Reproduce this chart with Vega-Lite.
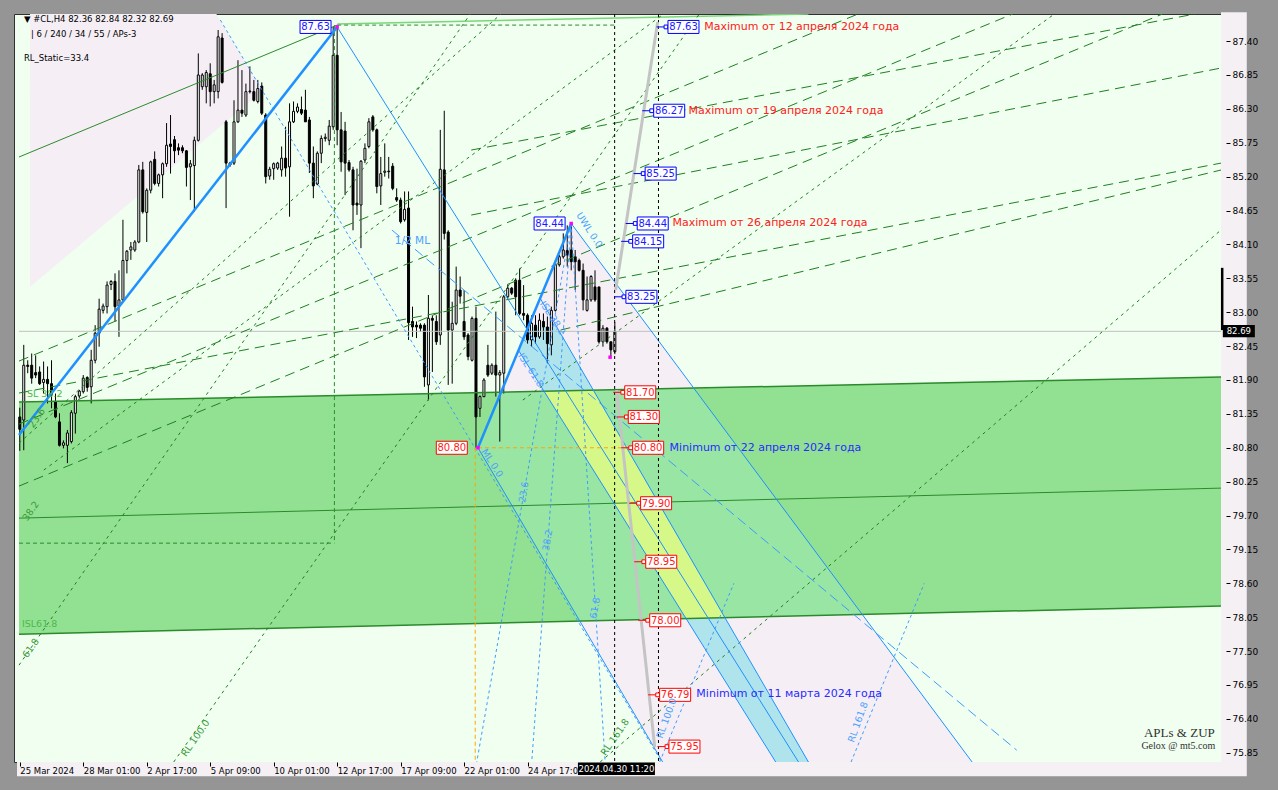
{
"$schema": "https://vega.github.io/schema/vega-lite/v6.json",
"width": 1212,
"height": 748,
"autosize": {"type": "none"},
"padding": {"left": 14, "top": 14, "right": 52, "bottom": 28},
"background": "#959595",
"config": {"view": {"fill": "#f0fff0", "stroke": "#303030", "strokeWidth": 1}, "axis": {"labelOverlap": false}},
"datasets": {
"frame": [
{"x1":302.8,"x2":309.3,"y1":87.87,"y2":75.47},
{"x1":-0.7,"x2":302.8,"y1":75.7,"y2":75.47}
],
"candles": [
{"i":0,"o":81.3,"h":81.45,"l":80.75,"c":81.1},
{"i":1,"o":81.25,"h":82.47,"l":80.76,"c":82.14},
{"i":2,"o":82.14,"h":82.22,"l":82.01,"c":82.12},
{"i":3,"o":82.14,"h":82.33,"l":81.84,"c":81.93},
{"i":4,"o":82.02,"h":82.3,"l":81.93,"c":81.98},
{"i":5,"o":82.03,"h":82.12,"l":81.82,"c":81.84},
{"i":6,"o":81.86,"h":82.2,"l":81.68,"c":81.91},
{"i":7,"o":81.91,"h":82.12,"l":81.52,"c":81.84},
{"i":8,"o":81.84,"h":82.22,"l":81.44,"c":81.66},
{"i":9,"o":81.55,"h":81.68,"l":81.28,"c":81.3},
{"i":10,"o":81.22,"h":81.36,"l":80.82,"c":80.84},
{"i":11,"o":80.84,"h":80.92,"l":80.79,"c":80.88},
{"i":12,"o":80.84,"h":81.09,"l":80.55,"c":81.04},
{"i":13,"o":80.9,"h":81.41,"l":80.87,"c":81.37},
{"i":14,"o":81.36,"h":81.66,"l":81.03,"c":81.63},
{"i":15,"o":81.64,"h":81.74,"l":81.6,"c":81.72},
{"i":16,"o":81.71,"h":81.98,"l":81.68,"c":81.93},
{"i":17,"o":81.94,"h":81.96,"l":81.71,"c":81.78},
{"i":18,"o":81.79,"h":82.39,"l":81.52,"c":82.22},
{"i":19,"o":82.22,"h":82.79,"l":82.17,"c":82.66},
{"i":20,"o":82.66,"h":83.22,"l":82.44,"c":83.05},
{"i":21,"o":83.03,"h":83.14,"l":82.98,"c":83.1},
{"i":22,"o":83.09,"h":83.5,"l":82.98,"c":83.44},
{"i":23,"o":83.45,"h":83.52,"l":83.36,"c":83.5},
{"i":24,"o":83.5,"h":83.63,"l":82.85,"c":83.09},
{"i":25,"o":83.1,"h":83.68,"l":82.6,"c":83.2},
{"i":26,"o":83.2,"h":84.5,"l":83.17,"c":83.84},
{"i":27,"o":83.84,"h":84.01,"l":83.63,"c":83.99},
{"i":28,"o":84.01,"h":84.14,"l":83.85,"c":84.06},
{"i":29,"o":84.01,"h":84.17,"l":83.98,"c":84.14},
{"i":30,"o":84.14,"h":85.39,"l":84.12,"c":85.31},
{"i":31,"o":85.31,"h":85.44,"l":84.6,"c":84.63},
{"i":32,"o":84.62,"h":85.01,"l":84.14,"c":84.98},
{"i":33,"o":84.98,"h":85.46,"l":84.93,"c":85.44},
{"i":34,"o":85.48,"h":85.61,"l":85.06,"c":85.09},
{"i":35,"o":85.09,"h":85.25,"l":85.04,"c":85.23},
{"i":36,"o":85.23,"h":85.43,"l":84.85,"c":85.41},
{"i":37,"o":85.41,"h":86.07,"l":85.36,"c":85.71},
{"i":38,"o":85.73,"h":86.2,"l":85.25,"c":85.69},
{"i":39,"o":85.8,"h":85.86,"l":85.42,"c":85.62},
{"i":40,"o":85.67,"h":85.74,"l":85.55,"c":85.63},
{"i":41,"o":85.67,"h":85.71,"l":85.58,"c":85.62},
{"i":42,"o":85.62,"h":85.63,"l":85.04,"c":85.35},
{"i":43,"o":85.36,"h":85.47,"l":84.82,"c":85.41},
{"i":44,"o":85.38,"h":85.85,"l":84.63,"c":85.79},
{"i":45,"o":85.79,"h":87.2,"l":85.77,"c":86.85},
{"i":46,"o":86.66,"h":86.88,"l":86.61,"c":86.85},
{"i":47,"o":86.66,"h":86.93,"l":86.39,"c":86.89},
{"i":48,"o":86.87,"h":87.04,"l":86.34,"c":86.58},
{"i":49,"o":86.58,"h":86.77,"l":86.39,"c":86.69},
{"i":50,"o":86.58,"h":87.58,"l":86.47,"c":87.47},
{"i":51,"o":87.45,"h":87.53,"l":86.71,"c":86.73},
{"i":52,"o":86.09,"h":86.12,"l":84.69,"c":85.42},
{"i":53,"o":85.42,"h":85.44,"l":85.36,"c":85.39},
{"i":54,"o":85.42,"h":86.44,"l":85.39,"c":86.09},
{"i":55,"o":86.09,"h":87.09,"l":86.07,"c":86.28},
{"i":56,"o":86.28,"h":86.93,"l":86.17,"c":86.23},
{"i":57,"o":86.2,"h":86.71,"l":86.17,"c":86.58},
{"i":58,"o":86.58,"h":86.99,"l":86.55,"c":86.59},
{"i":59,"o":86.58,"h":86.77,"l":86.42,"c":86.44},
{"i":60,"o":86.42,"h":86.77,"l":86.39,"c":86.63},
{"i":61,"o":86.67,"h":86.73,"l":86.2,"c":86.23},
{"i":62,"o":86.2,"h":86.23,"l":85.09,"c":85.2},
{"i":63,"o":85.21,"h":85.36,"l":85.15,"c":85.32},
{"i":64,"o":85.33,"h":85.43,"l":85.15,"c":85.41},
{"i":65,"o":85.34,"h":85.44,"l":85.31,"c":85.42},
{"i":66,"o":85.31,"h":85.69,"l":85.2,"c":85.5},
{"i":67,"o":85.5,"h":86.01,"l":85.2,"c":85.34},
{"i":68,"o":85.36,"h":86.39,"l":84.55,"c":86.09},
{"i":69,"o":86.09,"h":86.42,"l":86.07,"c":86.26},
{"i":70,"o":86.26,"h":86.39,"l":86.23,"c":86.33},
{"i":71,"o":86.29,"h":86.5,"l":86.2,"c":86.23},
{"i":72,"o":86.28,"h":86.61,"l":86.09,"c":86.09},
{"i":73,"o":86.12,"h":86.17,"l":85.26,"c":85.42},
{"i":74,"o":85.42,"h":85.69,"l":84.85,"c":85.05},
{"i":75,"o":85.08,"h":85.61,"l":85.06,"c":85.58},
{"i":76,"o":85.58,"h":85.87,"l":85.42,"c":85.82},
{"i":77,"o":85.82,"h":85.9,"l":85.77,"c":85.84},
{"i":78,"o":85.79,"h":86.12,"l":85.71,"c":86.02},
{"i":79,"o":86.01,"h":87.63,"l":85.96,"c":87.17},
{"i":80,"o":87.17,"h":87.63,"l":85.71,"c":85.96},
{"i":81,"o":85.96,"h":86.25,"l":85.28,"c":85.44},
{"i":82,"o":85.94,"h":86.09,"l":84.9,"c":85.42},
{"i":83,"o":85.43,"h":85.47,"l":85.28,"c":85.31},
{"i":84,"o":85.31,"h":85.36,"l":84.33,"c":84.74},
{"i":85,"o":84.77,"h":85.33,"l":84.58,"c":84.74},
{"i":86,"o":84.74,"h":85.47,"l":84.04,"c":85.45},
{"i":87,"o":85.47,"h":85.74,"l":85.42,"c":85.66},
{"i":88,"o":85.69,"h":86.15,"l":85.66,"c":86.09},
{"i":89,"o":86.17,"h":86.2,"l":85.93,"c":85.96},
{"i":90,"o":85.96,"h":85.98,"l":84.93,"c":85.04},
{"i":91,"o":85.05,"h":85.52,"l":84.74,"c":85.25},
{"i":92,"o":85.27,"h":85.74,"l":85.2,"c":85.29},
{"i":93,"o":85.29,"h":85.52,"l":85.17,"c":85.28},
{"i":94,"o":85.37,"h":85.42,"l":84.98,"c":85.01},
{"i":95,"o":84.86,"h":85.01,"l":84.79,"c":84.82},
{"i":96,"o":84.82,"h":84.86,"l":84.44,"c":84.47},
{"i":97,"o":84.5,"h":84.96,"l":84.47,"c":84.67},
{"i":98,"o":84.69,"h":84.96,"l":82.55,"c":82.83},
{"i":99,"o":82.85,"h":83.09,"l":82.6,"c":82.76},
{"i":100,"o":82.79,"h":82.85,"l":82.58,"c":82.76},
{"i":101,"o":82.79,"h":82.82,"l":82.68,"c":82.74},
{"i":102,"o":82.79,"h":82.82,"l":81.79,"c":81.95},
{"i":103,"o":81.82,"h":83.28,"l":81.57,"c":82.9},
{"i":104,"o":82.9,"h":82.95,"l":82.03,"c":82.87},
{"i":105,"o":82.85,"h":82.95,"l":82.47,"c":82.52},
{"i":106,"o":82.63,"h":85.96,"l":82.47,"c":85.32},
{"i":107,"o":85.31,"h":86.27,"l":84.18,"c":84.28},
{"i":108,"o":84.3,"h":84.33,"l":81.82,"c":82.71},
{"i":109,"o":82.71,"h":83.17,"l":81.84,"c":82.82},
{"i":110,"o":82.82,"h":83.74,"l":82.79,"c":83.36},
{"i":111,"o":83.36,"h":83.58,"l":83.14,"c":83.26},
{"i":112,"o":82.85,"h":83.36,"l":82.55,"c":82.6},
{"i":113,"o":82.63,"h":82.66,"l":82.22,"c":82.28},
{"i":114,"o":82.22,"h":82.93,"l":82.2,"c":82.9},
{"i":115,"o":82.9,"h":83.09,"l":80.8,"c":81.3},
{"i":116,"o":81.44,"h":81.65,"l":81.3,"c":81.63},
{"i":117,"o":81.63,"h":81.93,"l":81.62,"c":81.9},
{"i":118,"o":82.14,"h":82.47,"l":81.95,"c":81.98},
{"i":119,"o":82.01,"h":82.17,"l":81.98,"c":82.14},
{"i":120,"o":82.14,"h":83.01,"l":81.63,"c":81.98},
{"i":121,"o":81.98,"h":82.06,"l":80.9,"c":82.02},
{"i":122,"o":82.01,"h":83.28,"l":81.68,"c":83.25},
{"i":123,"o":83.25,"h":83.44,"l":83.2,"c":83.39},
{"i":124,"o":83.39,"h":83.41,"l":83.28,"c":83.31},
{"i":125,"o":83.52,"h":83.55,"l":82.95,"c":83.25},
{"i":126,"o":83.52,"h":83.71,"l":82.95,"c":82.98},
{"i":127,"o":82.98,"h":83.44,"l":82.87,"c":82.95},
{"i":128,"o":82.95,"h":82.98,"l":82.49,"c":82.55},
{"i":129,"o":82.55,"h":82.95,"l":82.44,"c":82.82},
{"i":130,"o":82.79,"h":82.95,"l":82.49,"c":82.6},
{"i":131,"o":82.6,"h":82.98,"l":82.57,"c":82.87},
{"i":132,"o":82.85,"h":82.98,"l":82.55,"c":82.76},
{"i":133,"o":82.76,"h":82.93,"l":82.17,"c":82.49},
{"i":134,"o":82.47,"h":83.09,"l":82.3,"c":83.03},
{"i":135,"o":83.03,"h":83.79,"l":83.01,"c":83.77},
{"i":136,"o":83.77,"h":83.93,"l":83.74,"c":83.9},
{"i":137,"o":83.9,"h":84.28,"l":83.87,"c":84.01},
{"i":138,"o":84.0,"h":84.41,"l":83.74,"c":83.93},
{"i":139,"o":84.01,"h":84.44,"l":83.68,"c":83.82},
{"i":140,"o":83.9,"h":84.01,"l":83.36,"c":83.82},
{"i":141,"o":83.84,"h":83.87,"l":83.66,"c":83.68},
{"i":142,"o":83.68,"h":83.79,"l":83.03,"c":83.2},
{"i":143,"o":83.03,"h":83.58,"l":83.01,"c":83.2},
{"i":144,"o":83.2,"h":83.6,"l":83.17,"c":83.58},
{"i":145,"o":83.41,"h":83.68,"l":83.17,"c":83.2},
{"i":146,"o":83.41,"h":83.41,"l":82.49,"c":82.52},
{"i":147,"o":82.52,"h":82.79,"l":82.44,"c":82.74},
{"i":148,"o":82.74,"h":82.76,"l":82.49,"c":82.52},
{"i":149,"o":82.52,"h":82.52,"l":82.28,"c":82.39},
{"i":150,"o":82.36,"h":82.84,"l":82.32,"c":82.69}
],
"polys": [
{"id":"pinkTop","y":87.84,"xl":2.55,"xr":49.55},
{"id":"pinkTop","y":86.59,"xl":2.55,"xr":61.18},
{"id":"pinkTop","y":83.408,"xl":2.55,"xr":2.55},
{"id":"pinkMain","y":84.44,"xl":139,"xr":139},
{"id":"pinkMain","y":80.8,"xl":115.5,"xr":180.9},
{"id":"pinkMain","y":75.7,"xl":162.05,"xr":240.05},
{"id":"cyan","y":82.759,"xl":128.1,"xr":135.4},
{"id":"cyan","y":82.382,"xl":125.7,"xr":138.75},
{"id":"cyan","y":75.7,"xl":190.55,"xr":198.8},
{"id":"green","x":-0.2,"top":81.541,"bot":77.775},
{"id":"green","x":302.8,"top":81.947,"bot":78.23},
{"id":"teal","x":115.55,"top":80.8,"bot":80.8},
{"id":"teal","x":121.3,"top":81.704,"bot":80.178},
{"id":"teal","x":141.2,"top":81.731,"bot":77.988},
{"id":"teal","x":169.8,"top":81.769,"bot":78.03},
{"id":"teal","x":212.5,"top":78.094,"bot":78.094},
{"id":"yellow","x":132.11,"top":81.718,"bot":81.718},
{"id":"yellow","x":144.55,"top":81.735,"bot":80.438},
{"id":"yellow","x":167.93,"top":79.127,"bot":78.027},
{"id":"yellow","x":177.65,"top":78.042,"bot":78.042}
],
"lines": [
{"k":"cur","x1":-0.2,"y1":82.69,"x2":302.8,"y2":82.69},
{"k":"ge","x1":-0.2,"y1":81.541,"x2":302.8,"y2":81.947},
{"k":"ge","x1":-0.2,"y1":77.775,"x2":302.8,"y2":78.23},
{"k":"gs","x1":-0.2,"y1":79.658,"x2":302.8,"y2":80.145},
{"k":"gs","x1":-0.2,"y1":85.519,"x2":80,"y2":87.66},
{"k":"glt","x1":80.05,"y1":87.678,"x2":198.8,"y2":87.84},
{"k":"gld","x1":-0.2,"y1":82.207,"x2":211.3,"y2":87.84},
{"k":"gld","x1":-0.2,"y1":81.184,"x2":250.3,"y2":87.84},
{"k":"gld","x1":-0.2,"y1":80.178,"x2":288.05,"y2":87.84},
{"k":"gld","x1":113.8,"y1":85.632,"x2":296.3,"y2":87.84},
{"k":"gld","x1":113.8,"y1":84.577,"x2":302.8,"y2":86.963},
{"k":"gld","x1":136.3,"y1":82.71,"x2":302.8,"y2":85.308},
{"k":"gld","x1":-0.2,"y1":81.688,"x2":302.8,"y2":85.42},
{"k":"gsd","x1":38.8,"y1":75.7,"x2":171.3,"y2":87.84},
{"k":"gsd","x1":146.3,"y1":75.7,"x2":302.8,"y2":84.334},
{"k":"gsd","x1":-0.2,"y1":80.876,"x2":121.3,"y2":87.84},
{"k":"gsd","x1":6.05,"y1":80.438,"x2":162.3,"y2":87.84},
{"k":"gsd","x1":126.8,"y1":81.574,"x2":260.8,"y2":87.84},
{"k":"gsd","x1":-0.2,"y1":77.272,"x2":113.55,"y2":87.84},
{"k":"gdr","x1":79.3,"y1":87.66,"x2":79.3,"y2":79.252},
{"k":"gdr","x1":-0.2,"y1":79.252,"x2":79.3,"y2":79.252},
{"k":"gdr","x1":80,"y1":87.66,"x2":150,"y2":87.66},
{"k":"db","x1":50.55,"y1":87.743,"x2":161.8,"y2":75.7},
{"k":"db","x1":139,"y1":84.44,"x2":115.2,"y2":75.7},
{"k":"db","x1":139,"y1":84.44,"x2":129.05,"y2":75.7},
{"k":"db","x1":139,"y1":84.44,"x2":147.55,"y2":75.7},
{"k":"db","x1":161.3,"y1":75.7,"x2":180,"y2":78.6},
{"k":"db","x1":209.55,"y1":75.7,"x2":228,"y2":78.6},
{"k":"dbl","x1":93.8,"y1":84.334,"x2":251.3,"y2":75.892},
{"k":"sb","x1":80,"y1":87.63,"x2":196.3,"y2":75.7},
{"k":"sb","x1":139,"y1":84.44,"x2":240.05,"y2":75.7},
{"k":"sb","x1":115.5,"y1":80.8,"x2":162.05,"y2":75.7},
{"k":"sb","x1":125.7,"y1":82.382,"x2":190.55,"y2":75.7},
{"k":"sb","x1":131.15,"y1":83.23,"x2":198.8,"y2":75.7},
{"k":"od","x1":114.8,"y1":80.8,"x2":114.8,"y2":75.7},
{"k":"od","x1":115.5,"y1":80.8,"x2":155,"y2":80.8},
{"k":"kd","x1":149.95,"y1":87.84,"x2":149.95,"y2":75.7},
{"k":"kd","x1":161,"y1":87.84,"x2":161,"y2":75.7},
{"k":"gray","x1":150.2,"y1":83.36,"x2":160.8,"y2":87.71},
{"k":"gray","x1":150.45,"y1":81.736,"x2":160.05,"y2":75.941},
{"k":"tb","x1":-0.2,"y1":81.006,"x2":80,"y2":87.63},
{"k":"tb","x1":115.5,"y1":80.8,"x2":139,"y2":84.44}
],
"boxes": [
{"t":"87.63","x":74.55,"p":87.63,"c":"b","s":"N"},
{"t":"84.44","x":133.55,"p":84.44,"c":"b","s":"N"},
{"t":"87.63","x":167.3,"p":87.63,"c":"b","s":"L"},
{"t":"86.27","x":163.7,"p":86.27,"c":"b","s":"L"},
{"t":"85.25","x":161.55,"p":85.25,"c":"b","s":"L"},
{"t":"84.44","x":159.55,"p":84.44,"c":"b","s":"L"},
{"t":"84.15","x":158.4,"p":84.15,"c":"b","s":"L"},
{"t":"83.25","x":156.7,"p":83.25,"c":"b","s":"L"},
{"t":"81.70","x":156.4,"p":81.7,"c":"r","s":"L"},
{"t":"81.30","x":157.3,"p":81.3,"c":"r","s":"L"},
{"t":"80.80","x":108.9,"p":80.8,"c":"r","s":"N"},
{"t":"80.80","x":158.4,"p":80.8,"c":"r","s":"L"},
{"t":"79.90","x":160.4,"p":79.9,"c":"r","s":"L"},
{"t":"78.95","x":161.7,"p":78.95,"c":"r","s":"L"},
{"t":"78.00","x":162.7,"p":78.0,"c":"r","s":"L"},
{"t":"76.79","x":165.2,"p":76.79,"c":"r","s":"L"},
{"t":"75.95","x":167.55,"p":75.95,"c":"r","s":"L"}
],
"pts": [
{"x":80,"p":87.63},{"x":139,"p":84.44},{"x":115.5,"p":80.8},{"x":148.8,"p":82.27}
],
"texts": [
{"k":"hdr","t":"▼  #CL,H4  82.36 82.84 82.32 82.69","x":1.05,"y":87.76},
{"k":"hdr","t":"|  6 / 240 / 34 / 55 / APs-3","x":2.8,"y":87.515},
{"k":"hdr","t":"RL_Static=33.4","x":1.05,"y":87.126},
{"k":"mx","t":"Maximum от 12 апреля 2024 года","x":172.55,"y":87.63},
{"k":"mx","t":"Maximum от 19 апреля 2024 года","x":168.55,"y":86.27},
{"k":"mx","t":"Maximum от 26 апреля 2024 года","x":164.55,"y":84.44},
{"k":"mn","t":"Minimum от 22 апреля 2024 года","x":163.8,"y":80.8},
{"k":"mn","t":"Minimum от 11 марта 2024 года","x":170.55,"y":76.8},
{"k":"wm1","t":"APLs & ZUP","x":292.3,"y":76.168},
{"k":"wm2","t":"Gelox @ mt5.com","x":292.05,"y":75.957},
{"k":"hb","t":"1/2 ML","x":94.55,"y":84.155},
{"k":"hg","t":"SL 38.2","x":1.8,"y":81.671},
{"k":"hg","t":"ISL61.8","x":0.55,"y":77.946},
{"k":"rb57","t":"UWL 0.0","x":143.55,"y":84.334},
{"k":"rb57","t":"ISL 38.2","x":134.3,"y":82.905},
{"k":"rb57","t":"ISL 61.8","x":128.8,"y":82.06},
{"k":"rb57","t":"ML 0.0","x":119.05,"y":80.551},
{"k":"rbv","t":"23.6","x":127.05,"y":80.08},
{"k":"rbv","t":"38.2","x":133.05,"y":79.3},
{"k":"rbv","t":"61.8","x":145.05,"y":78.2},
{"k":"rg","t":"RL 100.0","x":44.3,"y":76.087},
{"k":"rg","t":"RL 161.8","x":150.05,"y":76.103},
{"k":"rg","t":"23.6","x":4.3,"y":81.282},
{"k":"rg","t":"38.2","x":2.8,"y":79.772},
{"k":"rg","t":"61.8","x":2.8,"y":77.548},
{"k":"rb70","t":"RL 100.0","x":163.05,"y":76.41},
{"k":"rb70","t":"RL 161.8","x":211.3,"y":76.347}
],
"marks": [
{"k":"cross","t":"2024.04.30 11:20","x":150.4,"y":75.59},
{"k":"curp","t":"82.69","x":307.3,"y":82.694}
]
},
"layer": [
{"data":{"name":"frame"},"mark":{"type":"rect","color":"#f4f0f4"},"encoding":{"x":{"field":"x1","type":"quantitative","scale":{"domain":[-0.2,302.8],"nice":false,"zero":false}},"x2":{"field":"x2"},"y":{"field":"y1","type":"quantitative","scale":{"domain":[75.7,87.84],"nice":false,"zero":false}},"y2":{"field":"y2"}}},
{"data":{"name":"polys"},"transform":[{"filter":"datum.id=='pinkTop'"}],"mark":{"type":"area","orient":"horizontal","color":"#f5eff5","clip":true},"encoding":{"y":{"field":"y","type":"quantitative","scale":{"domain":[75.7,87.84],"nice":false,"zero":false}},"x":{"field":"xl","type":"quantitative","scale":{"domain":[-0.2,302.8],"nice":false,"zero":false}},"x2":{"field":"xr"}}},
{"data":{"name":"polys"},"transform":[{"filter":"datum.id=='pinkMain'"}],"mark":{"type":"area","orient":"horizontal","color":"#f5eff5","clip":true},"encoding":{"y":{"field":"y","type":"quantitative","scale":{"domain":[75.7,87.84],"nice":false,"zero":false}},"x":{"field":"xl","type":"quantitative","scale":{"domain":[-0.2,302.8],"nice":false,"zero":false}},"x2":{"field":"xr"}}},
{"data":{"name":"polys"},"transform":[{"filter":"datum.id=='green'"}],"mark":{"type":"area","orient":"vertical","color":"#92e192","clip":true},"encoding":{"x":{"field":"x","type":"quantitative","scale":{"domain":[-0.2,302.8],"nice":false,"zero":false}},"y":{"field":"top","type":"quantitative","scale":{"domain":[75.7,87.84],"nice":false,"zero":false}},"y2":{"field":"bot"}}},
{"data":{"name":"polys"},"transform":[{"filter":"datum.id=='teal'"}],"mark":{"type":"area","orient":"vertical","color":"#98e5a4","clip":true},"encoding":{"x":{"field":"x","type":"quantitative","scale":{"domain":[-0.2,302.8],"nice":false,"zero":false}},"y":{"field":"top","type":"quantitative","scale":{"domain":[75.7,87.84],"nice":false,"zero":false}},"y2":{"field":"bot"}}},
{"data":{"name":"polys"},"transform":[{"filter":"datum.id=='cyan'"}],"mark":{"type":"area","orient":"horizontal","color":"#b0e4ec","clip":true},"encoding":{"y":{"field":"y","type":"quantitative","scale":{"domain":[75.7,87.84],"nice":false,"zero":false}},"x":{"field":"xl","type":"quantitative","scale":{"domain":[-0.2,302.8],"nice":false,"zero":false}},"x2":{"field":"xr"}}},
{"data":{"name":"polys"},"transform":[{"filter":"datum.id=='yellow'"}],"mark":{"type":"area","orient":"vertical","color":"#d6f888","clip":true},"encoding":{"x":{"field":"x","type":"quantitative","scale":{"domain":[-0.2,302.8],"nice":false,"zero":false}},"y":{"field":"top","type":"quantitative","scale":{"domain":[75.7,87.84],"nice":false,"zero":false}},"y2":{"field":"bot"}}},
{"data":{"name":"candles"},"mark":{"type":"rule","color":"#000000","strokeWidth":1,"clip":true},"encoding":{
 "x":{"field":"i","type":"quantitative","scale":{"domain":[-0.2,302.8],"nice":false,"zero":false},"axis":{"orient":"bottom","zindex":1,"values":[0,16,32,48,64,80,96,112,128],"tickCount":40,"labelExpr":"['25 Mar 2024','28 Mar 01:00','2 Apr 17:00','5 Apr 09:00','10 Apr 01:00','12 Apr 17:00','17 Apr 09:00','22 Apr 01:00','24 Apr 17:0'][round(datum.value/16)]","title":null,"grid":false,"ticks":true,"tickSize":4,"tickColor":"#000000","domain":false,"labelPadding":0,"labelAlign":"left","labelBaseline":"top","labelFont":"DejaVu Sans","labelFontSize":8.5,"labelColor":"#000000","labelOverlap":false,"labelFlush":false,"labelBound":false}},
 "y":{"field":"l","type":"quantitative","scale":{"domain":[75.7,87.84],"nice":false,"zero":false},"axis":{"orient":"right","zindex":1,"values":[75.85,76.4,76.95,77.5,78.05,78.6,79.15,79.7,80.25,80.8,81.35,81.9,82.45,83,83.55,84.1,84.65,85.2,85.75,86.3,86.85,87.4],"tickCount":60,"labelExpr":"format(datum.value, '.2f')","title":null,"grid":false,"ticks":true,"tickSize":4,"tickColor":"#000000","domain":false,"labelPadding":2,"labelFont":"DejaVu Sans","labelFontSize":9,"labelColor":"#000000","labelOverlap":false,"labelFlush":false,"labelBound":false}},
 "y2":{"field":"h"}}},
{"data":{"name":"candles"},"mark":{"type":"bar","width":2,"stroke":"#000000","strokeWidth":1,"clip":true},"encoding":{"x":{"field":"i","type":"quantitative","scale":{"domain":[-0.2,302.8],"nice":false,"zero":false}},"y":{"field":"o","type":"quantitative","scale":{"domain":[75.7,87.84],"nice":false,"zero":false}},"y2":{"field":"c"},"fill":{"condition":{"test":"datum.c >= datum.o","value":"#ffffff"},"value":"#000000"}}},
{"data":{"name":"lines"},"transform":[{"filter":"datum.k=='cur'"}],"mark":{"type":"rule","clip":true,"color":"#c0c0c0","strokeWidth":1},"encoding":{"x":{"field":"x1","type":"quantitative","scale":{"domain":[-0.2,302.8],"nice":false,"zero":false}},"y":{"field":"y1","type":"quantitative","scale":{"domain":[75.7,87.84],"nice":false,"zero":false}},"x2":{"field":"x2"},"y2":{"field":"y2"}}},
{"data":{"name":"lines"},"transform":[{"filter":"datum.k=='ge'"}],"mark":{"type":"rule","clip":true,"color":"#2b8a2b","strokeWidth":1.5},"encoding":{"x":{"field":"x1","type":"quantitative","scale":{"domain":[-0.2,302.8],"nice":false,"zero":false}},"y":{"field":"y1","type":"quantitative","scale":{"domain":[75.7,87.84],"nice":false,"zero":false}},"x2":{"field":"x2"},"y2":{"field":"y2"}}},
{"data":{"name":"lines"},"transform":[{"filter":"datum.k=='gs'"}],"mark":{"type":"rule","clip":true,"color":"#2b8a2b","strokeWidth":1},"encoding":{"x":{"field":"x1","type":"quantitative","scale":{"domain":[-0.2,302.8],"nice":false,"zero":false}},"y":{"field":"y1","type":"quantitative","scale":{"domain":[75.7,87.84],"nice":false,"zero":false}},"x2":{"field":"x2"},"y2":{"field":"y2"}}},
{"data":{"name":"lines"},"transform":[{"filter":"datum.k=='glt'"}],"mark":{"type":"rule","clip":true,"color":"#7ad67a","strokeWidth":1.5},"encoding":{"x":{"field":"x1","type":"quantitative","scale":{"domain":[-0.2,302.8],"nice":false,"zero":false}},"y":{"field":"y1","type":"quantitative","scale":{"domain":[75.7,87.84],"nice":false,"zero":false}},"x2":{"field":"x2"},"y2":{"field":"y2"}}},
{"data":{"name":"lines"},"transform":[{"filter":"datum.k=='gld'"}],"mark":{"type":"rule","clip":true,"color":"#1f7f1f","strokeWidth":1,"strokeDash":[10,6]},"encoding":{"x":{"field":"x1","type":"quantitative","scale":{"domain":[-0.2,302.8],"nice":false,"zero":false}},"y":{"field":"y1","type":"quantitative","scale":{"domain":[75.7,87.84],"nice":false,"zero":false}},"x2":{"field":"x2"},"y2":{"field":"y2"}}},
{"data":{"name":"lines"},"transform":[{"filter":"datum.k=='gsd'"}],"mark":{"type":"rule","clip":true,"color":"#1f7f1f","strokeWidth":1,"strokeDash":[3,4]},"encoding":{"x":{"field":"x1","type":"quantitative","scale":{"domain":[-0.2,302.8],"nice":false,"zero":false}},"y":{"field":"y1","type":"quantitative","scale":{"domain":[75.7,87.84],"nice":false,"zero":false}},"x2":{"field":"x2"},"y2":{"field":"y2"}}},
{"data":{"name":"lines"},"transform":[{"filter":"datum.k=='gdr'"}],"mark":{"type":"rule","clip":true,"color":"#2b8a2b","strokeWidth":1,"strokeDash":[4,3]},"encoding":{"x":{"field":"x1","type":"quantitative","scale":{"domain":[-0.2,302.8],"nice":false,"zero":false}},"y":{"field":"y1","type":"quantitative","scale":{"domain":[75.7,87.84],"nice":false,"zero":false}},"x2":{"field":"x2"},"y2":{"field":"y2"}}},
{"data":{"name":"lines"},"transform":[{"filter":"datum.k=='db'"}],"mark":{"type":"rule","clip":true,"color":"#3d9bff","strokeWidth":1,"strokeDash":[3,3]},"encoding":{"x":{"field":"x1","type":"quantitative","scale":{"domain":[-0.2,302.8],"nice":false,"zero":false}},"y":{"field":"y1","type":"quantitative","scale":{"domain":[75.7,87.84],"nice":false,"zero":false}},"x2":{"field":"x2"},"y2":{"field":"y2"}}},
{"data":{"name":"lines"},"transform":[{"filter":"datum.k=='dbl'"}],"mark":{"type":"rule","clip":true,"color":"#3d9bff","strokeWidth":1,"strokeDash":[10,5]},"encoding":{"x":{"field":"x1","type":"quantitative","scale":{"domain":[-0.2,302.8],"nice":false,"zero":false}},"y":{"field":"y1","type":"quantitative","scale":{"domain":[75.7,87.84],"nice":false,"zero":false}},"x2":{"field":"x2"},"y2":{"field":"y2"}}},
{"data":{"name":"lines"},"transform":[{"filter":"datum.k=='sb'"}],"mark":{"type":"rule","clip":true,"color":"#1e90ff","strokeWidth":1},"encoding":{"x":{"field":"x1","type":"quantitative","scale":{"domain":[-0.2,302.8],"nice":false,"zero":false}},"y":{"field":"y1","type":"quantitative","scale":{"domain":[75.7,87.84],"nice":false,"zero":false}},"x2":{"field":"x2"},"y2":{"field":"y2"}}},
{"data":{"name":"lines"},"transform":[{"filter":"datum.k=='od'"}],"mark":{"type":"rule","clip":true,"color":"#ffa500","strokeWidth":1,"strokeDash":[4,3]},"encoding":{"x":{"field":"x1","type":"quantitative","scale":{"domain":[-0.2,302.8],"nice":false,"zero":false}},"y":{"field":"y1","type":"quantitative","scale":{"domain":[75.7,87.84],"nice":false,"zero":false}},"x2":{"field":"x2"},"y2":{"field":"y2"}}},
{"data":{"name":"lines"},"transform":[{"filter":"datum.k=='kd'"}],"mark":{"type":"rule","clip":true,"color":"#000000","strokeWidth":1,"strokeDash":[3,3]},"encoding":{"x":{"field":"x1","type":"quantitative","scale":{"domain":[-0.2,302.8],"nice":false,"zero":false}},"y":{"field":"y1","type":"quantitative","scale":{"domain":[75.7,87.84],"nice":false,"zero":false}},"x2":{"field":"x2"},"y2":{"field":"y2"}}},
{"data":{"name":"lines"},"transform":[{"filter":"datum.k=='gray'"}],"mark":{"type":"rule","clip":true,"color":"#c4c4c4","strokeWidth":3},"encoding":{"x":{"field":"x1","type":"quantitative","scale":{"domain":[-0.2,302.8],"nice":false,"zero":false}},"y":{"field":"y1","type":"quantitative","scale":{"domain":[75.7,87.84],"nice":false,"zero":false}},"x2":{"field":"x2"},"y2":{"field":"y2"}}},
{"data":{"name":"lines"},"transform":[{"filter":"datum.k=='tb'"}],"mark":{"type":"rule","clip":true,"color":"#1e90ff","strokeWidth":2.5},"encoding":{"x":{"field":"x1","type":"quantitative","scale":{"domain":[-0.2,302.8],"nice":false,"zero":false}},"y":{"field":"y1","type":"quantitative","scale":{"domain":[75.7,87.84],"nice":false,"zero":false}},"x2":{"field":"x2"},"y2":{"field":"y2"}}},
{"data":{"name":"pts"},"mark":{"type":"point","shape":"square","size":12,"filled":true,"color":"#ff00ff","opacity":1},"encoding":{"x":{"field":"x","type":"quantitative","scale":{"domain":[-0.2,302.8],"nice":false,"zero":false}},"y":{"field":"p","type":"quantitative","scale":{"domain":[75.7,87.84],"nice":false,"zero":false}}}},
{"data":{"name":"boxes"},"transform":[{"filter":"datum.s=='L' && datum.c=='b'"}],"mark":{"type":"rule","color":"#0000ff","strokeWidth":1,"xOffset":-27,"x2Offset":-15.5},"encoding":{"x":{"field":"x","type":"quantitative","scale":{"domain":[-0.2,302.8],"nice":false,"zero":false}},"x2":{"field":"x"},"y":{"field":"p","type":"quantitative","scale":{"domain":[75.7,87.84],"nice":false,"zero":false}}}},
{"data":{"name":"boxes"},"transform":[{"filter":"datum.s=='L' && datum.c=='r'"}],"mark":{"type":"rule","color":"#ff0000","strokeWidth":1,"xOffset":-27,"x2Offset":-15.5},"encoding":{"x":{"field":"x","type":"quantitative","scale":{"domain":[-0.2,302.8],"nice":false,"zero":false}},"x2":{"field":"x"},"y":{"field":"p","type":"quantitative","scale":{"domain":[75.7,87.84],"nice":false,"zero":false}}}},
{"data":{"name":"boxes"},"transform":[{"filter":"datum.s=='L' && datum.c=='b'"}],"mark":{"type":"point","shape":"square","size":14,"filled":true,"fill":"#ffffff","stroke":"#0000ff","strokeWidth":1,"opacity":1,"xOffset":-17.5},"encoding":{"x":{"field":"x","type":"quantitative","scale":{"domain":[-0.2,302.8],"nice":false,"zero":false}},"y":{"field":"p","type":"quantitative","scale":{"domain":[75.7,87.84],"nice":false,"zero":false}}}},
{"data":{"name":"boxes"},"transform":[{"filter":"datum.s=='L' && datum.c=='r'"}],"mark":{"type":"point","shape":"square","size":14,"filled":true,"fill":"#ffffff","stroke":"#ff0000","strokeWidth":1,"opacity":1,"xOffset":-17.5},"encoding":{"x":{"field":"x","type":"quantitative","scale":{"domain":[-0.2,302.8],"nice":false,"zero":false}},"y":{"field":"p","type":"quantitative","scale":{"domain":[75.7,87.84],"nice":false,"zero":false}}}},
{"data":{"name":"boxes"},"transform":[{"filter":"datum.c=='b'"}],"mark":{"type":"point","shape":"M-1,-0.42H1V0.42H-1Z","size":961,"filled":true,"fill":"#ffffff","stroke":"#0000ff","strokeWidth":1,"opacity":1},"encoding":{"x":{"field":"x","type":"quantitative","scale":{"domain":[-0.2,302.8],"nice":false,"zero":false}},"y":{"field":"p","type":"quantitative","scale":{"domain":[75.7,87.84],"nice":false,"zero":false}}}},
{"data":{"name":"boxes"},"transform":[{"filter":"datum.c=='r'"}],"mark":{"type":"point","shape":"M-1,-0.42H1V0.42H-1Z","size":961,"filled":true,"fill":"#ffffff","stroke":"#ff0000","strokeWidth":1,"opacity":1},"encoding":{"x":{"field":"x","type":"quantitative","scale":{"domain":[-0.2,302.8],"nice":false,"zero":false}},"y":{"field":"p","type":"quantitative","scale":{"domain":[75.7,87.84],"nice":false,"zero":false}}}},
{"data":{"name":"boxes"},"transform":[{"filter":"datum.c=='b'"}],"mark":{"type":"text","font":"DejaVu Sans","fontSize":10,"color":"#1a1aff","align":"center","baseline":"middle","dy":0.5},"encoding":{"x":{"field":"x","type":"quantitative","scale":{"domain":[-0.2,302.8],"nice":false,"zero":false}},"y":{"field":"p","type":"quantitative","scale":{"domain":[75.7,87.84],"nice":false,"zero":false}},"text":{"field":"t"}}},
{"data":{"name":"boxes"},"transform":[{"filter":"datum.c=='r'"}],"mark":{"type":"text","font":"DejaVu Sans","fontSize":10,"color":"#ff1a1a","align":"center","baseline":"middle","dy":0.5},"encoding":{"x":{"field":"x","type":"quantitative","scale":{"domain":[-0.2,302.8],"nice":false,"zero":false}},"y":{"field":"p","type":"quantitative","scale":{"domain":[75.7,87.84],"nice":false,"zero":false}},"text":{"field":"t"}}},
{"data":{"name":"texts"},"transform":[{"filter":"datum.k=='hdr'"}],"mark":{"type":"text","font":"DejaVu Sans","fontSize":8.5,"color":"#000000","align":"left","baseline":"middle"},"encoding":{"x":{"field":"x","type":"quantitative","scale":{"domain":[-0.2,302.8],"nice":false,"zero":false}},"y":{"field":"y","type":"quantitative","scale":{"domain":[75.7,87.84],"nice":false,"zero":false}},"text":{"field":"t"}}},
{"data":{"name":"texts"},"transform":[{"filter":"datum.k=='mx'"}],"mark":{"type":"text","font":"DejaVu Sans","fontSize":11,"color":"#ff2020","align":"left","baseline":"middle"},"encoding":{"x":{"field":"x","type":"quantitative","scale":{"domain":[-0.2,302.8],"nice":false,"zero":false}},"y":{"field":"y","type":"quantitative","scale":{"domain":[75.7,87.84],"nice":false,"zero":false}},"text":{"field":"t"}}},
{"data":{"name":"texts"},"transform":[{"filter":"datum.k=='mn'"}],"mark":{"type":"text","font":"DejaVu Sans","fontSize":11,"color":"#2a2aff","align":"left","baseline":"middle"},"encoding":{"x":{"field":"x","type":"quantitative","scale":{"domain":[-0.2,302.8],"nice":false,"zero":false}},"y":{"field":"y","type":"quantitative","scale":{"domain":[75.7,87.84],"nice":false,"zero":false}},"text":{"field":"t"}}},
{"data":{"name":"texts"},"transform":[{"filter":"datum.k=='wm1'"}],"mark":{"type":"text","font":"Liberation Serif","fontSize":13,"color":"#303030","align":"center","baseline":"middle"},"encoding":{"x":{"field":"x","type":"quantitative","scale":{"domain":[-0.2,302.8],"nice":false,"zero":false}},"y":{"field":"y","type":"quantitative","scale":{"domain":[75.7,87.84],"nice":false,"zero":false}},"text":{"field":"t"}}},
{"data":{"name":"texts"},"transform":[{"filter":"datum.k=='wm2'"}],"mark":{"type":"text","font":"Liberation Serif","fontSize":10,"color":"#303030","align":"center","baseline":"middle"},"encoding":{"x":{"field":"x","type":"quantitative","scale":{"domain":[-0.2,302.8],"nice":false,"zero":false}},"y":{"field":"y","type":"quantitative","scale":{"domain":[75.7,87.84],"nice":false,"zero":false}},"text":{"field":"t"}}},
{"data":{"name":"texts"},"transform":[{"filter":"datum.k=='hb'"}],"mark":{"type":"text","font":"DejaVu Sans","fontSize":10.5,"color":"#4d9fff","align":"left","baseline":"middle"},"encoding":{"x":{"field":"x","type":"quantitative","scale":{"domain":[-0.2,302.8],"nice":false,"zero":false}},"y":{"field":"y","type":"quantitative","scale":{"domain":[75.7,87.84],"nice":false,"zero":false}},"text":{"field":"t"}}},
{"data":{"name":"texts"},"transform":[{"filter":"datum.k=='hg'"}],"mark":{"type":"text","font":"DejaVu Sans","fontSize":9.5,"color":"#4cb84c","align":"left","baseline":"middle"},"encoding":{"x":{"field":"x","type":"quantitative","scale":{"domain":[-0.2,302.8],"nice":false,"zero":false}},"y":{"field":"y","type":"quantitative","scale":{"domain":[75.7,87.84],"nice":false,"zero":false}},"text":{"field":"t"}}},
{"data":{"name":"texts"},"transform":[{"filter":"datum.k=='rb57'"}],"mark":{"type":"text","font":"DejaVu Sans","fontSize":9.5,"color":"#4d9fff","align":"center","baseline":"middle","angle":57},"encoding":{"x":{"field":"x","type":"quantitative","scale":{"domain":[-0.2,302.8],"nice":false,"zero":false}},"y":{"field":"y","type":"quantitative","scale":{"domain":[75.7,87.84],"nice":false,"zero":false}},"text":{"field":"t"}}},
{"data":{"name":"texts"},"transform":[{"filter":"datum.k=='rbv'"}],"mark":{"type":"text","font":"DejaVu Sans","fontSize":9.5,"color":"#4d9fff","align":"center","baseline":"middle","angle":-80},"encoding":{"x":{"field":"x","type":"quantitative","scale":{"domain":[-0.2,302.8],"nice":false,"zero":false}},"y":{"field":"y","type":"quantitative","scale":{"domain":[75.7,87.84],"nice":false,"zero":false}},"text":{"field":"t"}}},
{"data":{"name":"texts"},"transform":[{"filter":"datum.k=='rg'"}],"mark":{"type":"text","font":"DejaVu Sans","fontSize":9.5,"color":"#3a9a3a","align":"center","baseline":"middle","angle":-55},"encoding":{"x":{"field":"x","type":"quantitative","scale":{"domain":[-0.2,302.8],"nice":false,"zero":false}},"y":{"field":"y","type":"quantitative","scale":{"domain":[75.7,87.84],"nice":false,"zero":false}},"text":{"field":"t"}}},
{"data":{"name":"texts"},"transform":[{"filter":"datum.k=='rb70'"}],"mark":{"type":"text","font":"DejaVu Sans","fontSize":9.5,"color":"#4d9fff","align":"center","baseline":"middle","angle":-70},"encoding":{"x":{"field":"x","type":"quantitative","scale":{"domain":[-0.2,302.8],"nice":false,"zero":false}},"y":{"field":"y","type":"quantitative","scale":{"domain":[75.7,87.84],"nice":false,"zero":false}},"text":{"field":"t"}}},
{"data":{"name":"marks"},"transform":[{"filter":"datum.k=='cross'"}],"mark":{"type":"point","shape":"M-1,-0.16H1V0.16H-1Z","size":5929,"filled":true,"color":"#000000","opacity":1},"encoding":{"x":{"field":"x","type":"quantitative","scale":{"domain":[-0.2,302.8],"nice":false,"zero":false}},"y":{"field":"y","type":"quantitative","scale":{"domain":[75.7,87.84],"nice":false,"zero":false}}}},
{"data":{"name":"marks"},"transform":[{"filter":"datum.k=='curp'"}],"mark":{"type":"point","shape":"M-1,-0.38H1V0.38H-1Z","size":1024,"filled":true,"color":"#000000","opacity":1},"encoding":{"x":{"field":"x","type":"quantitative","scale":{"domain":[-0.2,302.8],"nice":false,"zero":false}},"y":{"field":"y","type":"quantitative","scale":{"domain":[75.7,87.84],"nice":false,"zero":false}}}},
{"data":{"name":"marks"},"mark":{"type":"text","font":"DejaVu Sans","fontSize":8.5,"color":"#ffffff","align":"center","baseline":"middle"},"encoding":{"x":{"field":"x","type":"quantitative","scale":{"domain":[-0.2,302.8],"nice":false,"zero":false}},"y":{"field":"y","type":"quantitative","scale":{"domain":[75.7,87.84],"nice":false,"zero":false}},"text":{"field":"t"}}},
{"data":{"values":[{"x":303.1,"y1":83.72,"y2":82.71}]},"mark":{"type":"rule","color":"#000000","strokeWidth":2.5},"encoding":{"x":{"field":"x","type":"quantitative","scale":{"domain":[-0.2,302.8],"nice":false,"zero":false}},"y":{"field":"y1","type":"quantitative","scale":{"domain":[75.7,87.84],"nice":false,"zero":false}},"y2":{"field":"y2"}}}
]
}
